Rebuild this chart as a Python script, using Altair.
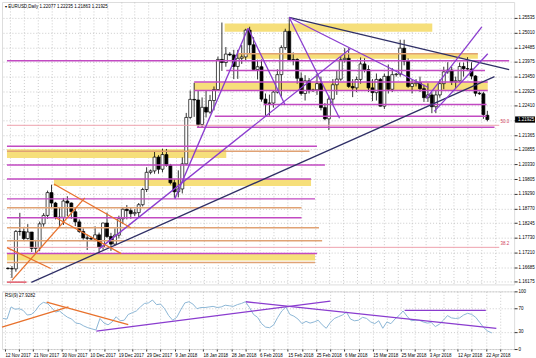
import json
import altair as alt
import pandas as pd

# ---------------- candles (bar index 0 = 12 Nov 2017) ----------------
opens = [1.1664,1.1663,1.1662,1.1795,1.1795,1.1770,1.1793,1.1735,1.1737,1.1822,
 1.1852,1.1933,1.1896,1.1845,1.1845,1.1903,1.1896,1.1865,1.1829,1.1795,
 1.1772,1.1771,1.1768,1.1783,1.1740,1.1825,1.1777,1.1750,1.1782,1.1840,
 1.1874,1.1869,1.1858,1.1862,1.1890,1.1944,1.2005,1.2010,1.2059,1.2016,
 1.2068,1.2030,1.1968,1.1936,1.1946,1.2035,1.2200,1.2264,1.2262,1.2175,
 1.2236,1.2219,1.2260,1.2299,1.2406,1.2395,1.2425,1.2422,1.2381,1.2410,
 1.2415,1.2510,1.2458,1.2370,1.2380,1.2265,1.2250,1.2251,1.2290,1.2352,
 1.2448,1.2506,1.2405,1.2406,1.2339,1.2285,1.2330,1.2295,1.2298,1.2320,
 1.2235,1.2195,1.2265,1.2316,1.2336,1.2405,1.2410,1.2310,1.2305,1.2335,
 1.2390,1.2370,1.2305,1.2288,1.2335,1.2240,1.2346,1.2300,1.2352,1.2354,
 1.2446,1.2400,1.2310,1.2320,1.2324,1.2302,1.2270,1.2280,1.2238,1.2280,
 1.2320,1.2362,1.2368,1.2326,1.2330,1.2381,1.2373,1.2372,1.2347,1.2286,
 1.2284,1.22077]
highs = [1.1668,1.1672,1.1800,1.1861,1.1806,1.1821,1.1793,1.1765,1.1830,1.1860,
 1.1940,1.1961,1.1900,1.1882,1.1914,1.1920,1.1898,1.1880,1.1838,1.1806,
 1.1784,1.1776,1.1813,1.1791,1.1826,1.1862,1.1790,1.1806,1.1851,1.1879,
 1.1889,1.1880,1.1874,1.1896,1.1950,1.2023,1.2015,1.2081,1.2066,1.2089,
 1.2088,1.2035,1.1980,1.2012,1.2058,1.2216,1.2296,1.2323,1.2297,1.2271,
 1.2296,1.2280,1.2310,1.2416,1.2537,1.2450,1.2432,1.2440,1.2440,1.2457,
 1.2515,1.2522,1.2485,1.2405,1.2406,1.2285,1.2281,1.2296,1.2371,1.2456,
 1.2515,1.2555,1.2431,1.2410,1.2360,1.2350,1.2340,1.2302,1.2355,1.2345,
 1.2251,1.2275,1.2336,1.2365,1.2415,1.2446,1.2446,1.2336,1.2345,1.2413,
 1.2410,1.2385,1.2336,1.2356,1.2340,1.2356,1.2388,1.2375,1.2358,1.2476,
 1.2476,1.2410,1.2336,1.2336,1.2345,1.2316,1.2321,1.2290,1.2295,1.2335,
 1.2380,1.2396,1.2380,1.2345,1.2395,1.2395,1.2414,1.2396,1.2350,1.2292,
 1.2291,1.22235]
lows = [1.1660,1.1630,1.1652,1.1780,1.1762,1.1766,1.1722,1.1715,1.1725,1.1812,
 1.1840,1.1880,1.1838,1.1812,1.1818,1.1849,1.1840,1.1814,1.1790,1.1766,
 1.1729,1.1764,1.1760,1.1718,1.1730,1.1772,1.1726,1.1745,1.1770,1.1822,
 1.1838,1.1840,1.1849,1.1845,1.1884,1.1935,1.1998,1.2000,1.2000,1.2005,
 1.2025,1.1962,1.1915,1.1916,1.1930,1.2030,1.2195,1.2202,1.2165,1.2165,
 1.2200,1.2213,1.2225,1.2295,1.2365,1.2380,1.2418,1.2336,1.2337,1.2390,
 1.2400,1.2425,1.2367,1.2335,1.2256,1.2206,1.2206,1.2235,1.2285,1.2274,
 1.2440,1.2401,1.2385,1.2320,1.2278,1.2260,1.2285,1.2290,1.2280,1.2225,
 1.2190,1.2155,1.2245,1.2280,1.2330,1.2395,1.2305,1.2272,1.2290,1.2320,
 1.2360,1.2290,1.2258,1.2260,1.2239,1.2230,1.2285,1.2290,1.2345,1.2345,
 1.2385,1.2305,1.2285,1.2310,1.2290,1.2255,1.2255,1.2215,1.2215,1.2270,
 1.2300,1.2355,1.2315,1.2305,1.2325,1.2345,1.2365,1.2335,1.2275,1.2280,
 1.2195,1.21863]
closes = [1.1663,1.1662,1.1795,1.1795,1.1770,1.1793,1.1735,1.1737,1.1822,1.1852,
 1.1933,1.1896,1.1845,1.1845,1.1903,1.1896,1.1865,1.1829,1.1795,1.1772,
 1.1771,1.1768,1.1783,1.1740,1.1825,1.1777,1.1750,1.1782,1.1840,1.1874,
 1.1869,1.1858,1.1862,1.1890,1.1944,1.2005,1.2010,1.2059,1.2016,1.2068,
 1.2030,1.1968,1.1936,1.1946,1.2035,1.2200,1.2264,1.2262,1.2175,1.2236,
 1.2219,1.2260,1.2299,1.2406,1.2395,1.2425,1.2422,1.2381,1.2410,1.2415,
 1.2510,1.2458,1.2370,1.2380,1.2265,1.2250,1.2251,1.2290,1.2352,1.2448,
 1.2506,1.2405,1.2406,1.2339,1.2285,1.2330,1.2295,1.2298,1.2320,1.2235,
 1.2195,1.2265,1.2316,1.2336,1.2405,1.2410,1.2310,1.2305,1.2335,1.2390,
 1.2370,1.2305,1.2288,1.2335,1.2240,1.2346,1.2300,1.2352,1.2354,1.2446,
 1.2400,1.2310,1.2320,1.2324,1.2302,1.2270,1.2280,1.2238,1.2280,1.2320,
 1.2362,1.2368,1.2326,1.2330,1.2381,1.2373,1.2372,1.2347,1.2286,1.2284,
 1.2210,1.21925]
rsi_vals = [53,52,73,69,70,67,59,60,66,76,
 81,79,72,64,66,60,55,52,45,44,
 40,37,35,33,53,45,42,47,56,49,
 50,60,63,66,73,79,80,85,77,78,
 70,58,50,55,68,80,82,78,70,72,
 72,73,74,72,73,76,75,74,77,79,
 82,72,60,55,44,38,37,42,55,66,
 73,60,57,52,44,48,45,47,50,42,
 36,46,53,56,59,64,52,49,50,55,
 53,47,44,49,36,47,44,52,58,66,
 57,49,50,50,47,45,46,39,43,50,
 58,54,53,54,59,62,60,55,46,37,
 31,27.93]

date_labels = ["12 Nov 2017", "21 Nov 2017", "30 Nov 2017", "10 Dec 2017", "19 Dec 2017",
               "29 Dec 2017", "9 Jan 2018", "18 Jan 2018", "28 Jan 2018", "6 Feb 2018",
               "15 Feb 2018", "25 Feb 2018", "6 Mar 2018", "15 Mar 2018", "25 Mar 2018",
               "3 Apr 2018", "12 Apr 2018", "22 Apr 2018"]
price_ticks = [1.25535, 1.25010, 1.24485, 1.23975, 1.23450, 1.22925, 1.22410, 1.21885,
               1.21365, 1.20855, 1.20330, 1.19805, 1.19290, 1.18770, 1.18245, 1.17730,
               1.17210, 1.16685, 1.16175]
hidden_tick = 1.21885  # covered by the current-price box in the reference
rsi_ticks = [0, 30, 70, 100]

# ---------------- horizontal levels ----------------
lvl_price = [1.24016, 1.24263, 1.23663, 1.23260, 1.22957, 1.22462, 1.22038, 1.21650,
             1.20979, 1.20802, 1.20307, 1.19813, 1.19107, 1.18789, 1.18435, 1.18082,
             1.17623, 1.17164, 1.16846, 1.16150]
lvl_from = [-0.25, 58.1, 55.1, 47.0, 47.0, 64.5, 52.2, 47.7,
            -0.25, -0.25, -0.25, -0.25, -0.25, -0.25, -0.25, -0.25,
            -0.25, -0.25, -0.25, -0.25]
lvl_to = [126.5, 118.6, 120.4, 121.1, 121.1, 120.8, 120.8, 122.8,
          78.0, 76.1, 80.0, 76.5, 77.5, 74.1, 74.1, 78.5,
          79.3, 78.0, 77.5, 4.7]
lvl_kind = ["mag", "tan", "mag", "mag", "mag", "mag", "mag", "mag",
            "mag", "tan", "mag", "mag", "mag", "tan", "mag", "tan",
            "tan", "mag", "tan", "red"]

# yellow zones
zone_lo = [1.25040, 1.24087, 1.22957, 1.20555, 1.19566, 1.16917]
zone_hi = [1.25334, 1.24263, 1.23239, 1.20873, 1.19813, 1.17164]
zone_from = [54.7, 58.1, 47.0, -0.25, 11.6, -0.25]
zone_to = [107.1, 118.6, 121.1, 55.1, 76.5, 77.5]

# fibonacci levels
fib_price = [1.21720, 1.17386]
fib_text = ["50.0", "38.2"]

# trendlines on price
tl_x1 = [5.9, 71.0, 71.0, 71.0, 60.6, 42.1, 23.1, 105.6, 107.6, 11.6, 12.1, -0.25, 1.0]
tl_p1 = [1.16140, 1.2555, 1.2555, 1.2555, 1.2517, 1.19107, 1.17340, 1.22674, 1.22215,
         1.19637, 1.18435, 1.17376, 1.16210]
tl_x2 = [122.8, 126.5, 106.1, 83.7, 69.9, 60.6, 86.4, 119.6, 121.1, 31.0, 28.6, 10.8, 19.4]
tl_p2 = [1.23451, 1.23698, 1.23063, 1.21968, 1.22462, 1.2517, 1.24440, 1.25217, 1.24263,
         1.18082, 1.17164, 1.16634, 1.19142]
tl_kind = ["navy", "navy", "purple", "purple", "purple", "purple", "purple", "purple",
           "purple", "orange", "orange", "orange", "orange"]

# trendlines on RSI
rtl_x1 = [-0.25, 10.8, 23.1, 60.1, 99.4]
rtl_v1 = [38, 81.5, 31, 82, 67]
rtl_x2 = [16.2, 31.0, 81.0, 122.1, 119.5]
rtl_v2 = [73, 42.5, 83, 36, 67]
rtl_kind = ["orange", "orange", "purple", "purple", "purple"]

title_text = "\u25be EURUSD,Daily  1.22077 1.22235 1.21863 1.21925"
rsi_text = "RSI(9) 27.9282"

# ---------------- tables ----------------
n = len(closes)
candles = pd.DataFrame({"i": list(range(n)), "o": opens, "h": highs, "l": lows,
                        "c": closes, "rsi": rsi_vals})
levels = pd.DataFrame({"p": lvl_price, "x1": lvl_from, "x2": lvl_to, "kind": lvl_kind})
zones = pd.DataFrame({"lo": zone_lo, "hi": zone_hi, "x1": zone_from, "x2": zone_to})
fibs = pd.DataFrame({"p": fib_price, "t": fib_text, "x1": [-0.25, -0.25], "x2": [124.0, 124.0],
                     "xt": [124.3, 124.3]})
trends = pd.DataFrame({"x1": tl_x1, "p1": tl_p1, "x2": tl_x2, "p2": tl_p2, "kind": tl_kind})
rtrends = pd.DataFrame({"x1": rtl_x1, "v1": rtl_v1, "x2": rtl_x2, "v2": rtl_v2, "kind": rtl_kind})
last = pd.DataFrame({"p": [closes[-1]], "t": [f"{closes[-1]:.5f}"]})

FONT = "Liberation Sans"
FS = 4.5
grid_pos = [0.5 + 3.5 * k for k in range(36)]

xs = alt.Scale(domain=[-0.25, 126.5], nice=False, zero=False)
ys = alt.Scale(domain=[1.16069, 1.26100], nice=False, zero=False)
rs = alt.Scale(domain=[0, 100], nice=False, zero=False)
kind_scale = alt.Scale(domain=["mag", "tan", "red", "navy", "purple", "orange"],
                       range=["#c24ac2", "#e0a274", "#e05a6a", "#2f2f66", "#8a3ccf", "#e8712c"])

GRID = dict(grid=True, gridColor="#b4b4b4", gridDash=[1, 2], gridWidth=0.7)

x_main_axis = alt.Axis(values=grid_pos, labels=False, ticks=False, domain=False, title=None, **GRID)
y_main_axis = alt.Axis(orient="right", values=price_ticks, title=None,
                       labelExpr=f"abs(datum.value - {hidden_tick}) < 0.00001 ? '' : format(datum.value, '.5f')",
                       labelFontSize=FS, labelFont=FONT, labelColor="black", tickSize=3,
                       tickColor="#333333", domain=False, labelPadding=1, **GRID)
label_js = json.dumps(date_labels)
x_rsi_axis = alt.Axis(values=grid_pos, title=None,
                      labelExpr=f"(datum.value - 0.5) % 7 == 0 ? {label_js}[(datum.value - 0.5) / 7] : ''",
                      labelAlign="left", labelFlush=False, labelOverlap=False, labelFontSize=FS,
                      labelFont=FONT, labelColor="black", labelPadding=1, tickSize=2,
                      tickColor="#333333", domain=False, **GRID)
y_rsi_axis = alt.Axis(orient="right", values=rsi_ticks, title=None, labelFontSize=FS,
                      labelFont=FONT, labelColor="black", tickSize=3, tickColor="#333333",
                      domain=False, labelPadding=1, **GRID)

X = lambda f: alt.X(f, scale=xs, axis=x_main_axis)
Y = lambda f: alt.Y(f, scale=ys, axis=y_main_axis)

bands = alt.Chart(zones).mark_rect(color="#f6df7a").encode(x=X("x1:Q"), x2="x2:Q", y=Y("lo:Q"), y2="hi:Q")
wick = alt.Chart(candles).mark_rule(color="black", strokeWidth=0.8).encode(x=X("i:Q"), y=Y("l:Q"), y2="h:Q")
body = alt.Chart(candles).mark_bar(size=3, stroke="black", strokeWidth=0.7).encode(
    x=X("i:Q"), y=Y("o:Q"), y2="c:Q",
    fill=alt.condition("datum.c >= datum.o", alt.value("white"), alt.value("black")))
hlines = alt.Chart(levels).mark_rule(strokeWidth=1.5).encode(
    x=X("x1:Q"), x2="x2:Q", y=Y("p:Q"),
    color=alt.Color("kind:N", scale=kind_scale, legend=None))
fibr = alt.Chart(fibs).mark_rule(strokeWidth=1, color="#eea0ac").encode(x=X("x1:Q"), x2="x2:Q", y=Y("p:Q"))
fibt = alt.Chart(fibs).mark_text(align="left", baseline="bottom", dy=-1, fontSize=FS, font=FONT,
                                 color="#d0405a").encode(x=X("xt:Q"), y=Y("p:Q"), text="t:N")
trend = alt.Chart(trends).mark_rule(strokeWidth=1.3).encode(
    x=X("x1:Q"), x2="x2:Q", y=Y("p1:Q"), y2="p2:Q",
    color=alt.Color("kind:N", scale=kind_scale, legend=None))
title = alt.Chart(pd.DataFrame({"t": [title_text]})).mark_text(
    align="left", baseline="middle", fontSize=FS, font=FONT, color="black").encode(
    x=alt.value(3), y=alt.value(5), text="t:N")
box = alt.Chart(last).transform_calculate(lo="datum.p - 0.0011", hi="datum.p + 0.0011").mark_rect(
    color="black").encode(x=alt.value(516), x2=alt.value(536), y=Y("lo:Q"), y2="hi:Q")
boxt = alt.Chart(last).mark_text(align="left", baseline="middle", fontSize=FS, font=FONT,
                                 color="white").encode(x=alt.value(519), y=Y("p:Q"), text="t:N")

main = alt.layer(bands, wick, body, hlines, fibr, trend, fibt, title, box, boxt).properties(
    width=515, height=284)

XR = lambda f: alt.X(f, scale=xs, axis=x_rsi_axis)
YR = lambda f: alt.Y(f, scale=rs, axis=y_rsi_axis)
rline = alt.Chart(candles).mark_line(color="#8cb6d6", strokeWidth=1).encode(x=XR("i:Q"), y=YR("rsi:Q"))
rtrend = alt.Chart(rtrends).mark_rule(strokeWidth=1.3).encode(
    x=XR("x1:Q"), x2="x2:Q", y=YR("v1:Q"), y2="v2:Q",
    color=alt.Color("kind:N", scale=kind_scale, legend=None))
rlabel = alt.Chart(pd.DataFrame({"t": [rsi_text]})).mark_text(
    align="left", baseline="middle", fontSize=FS, font=FONT, color="black").encode(
    x=alt.value(3), y=alt.value(5), text="t:N")
rsi = alt.layer(rline, rtrend, rlabel).properties(width=515, height=58)

chart = alt.vconcat(main, rsi, spacing=2).properties(padding=0).configure_view(
    stroke="#4a4a4a", strokeWidth=1).configure(background="white")

chart.save("out.html", embed_options={"renderer": "svg", "actions": False})
